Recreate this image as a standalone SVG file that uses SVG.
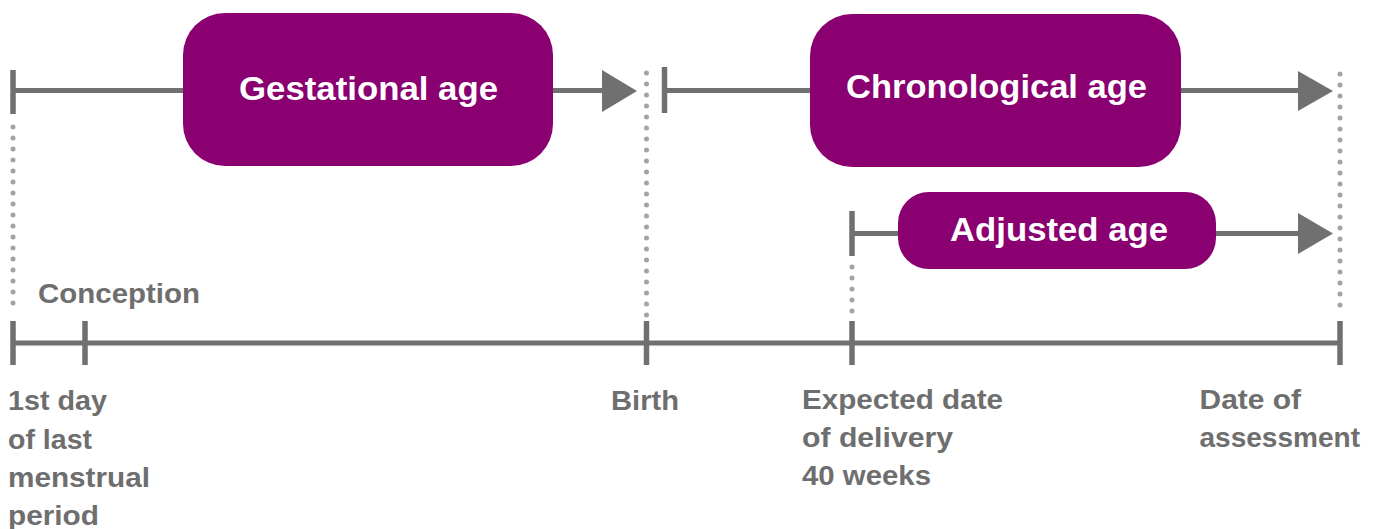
<svg xmlns="http://www.w3.org/2000/svg" width="1381" height="529" viewBox="0 0 1381 529">
<style>
.box{fill:#8a0070}
.btxt{font-family:"Liberation Sans",Arial,sans-serif;font-weight:bold;font-size:34px;fill:#ffffff;text-anchor:middle}
.lbl{font-family:"Liberation Sans",Arial,sans-serif;font-weight:bold;font-size:28px;fill:#6e6e6e}
.ln{stroke:#707070;stroke-width:5;fill:none}
.tk{stroke:#707070;stroke-width:5.5;fill:none}
.dot{stroke:#a3a3a3;stroke-width:5;stroke-linecap:round;stroke-dasharray:0 11;fill:none}
.ah{fill:#707070}
</style>
<rect width="1381" height="529" fill="#ffffff"/>
<g id="connectors">
  <line class="ln" x1="13" y1="90.5" x2="604" y2="90.5"/>
  <polygon class="ah" points="602,70 637,91 602,112"/>
  <line class="tk" x1="13" y1="70" x2="13" y2="114"/>
  <line class="ln" x1="664.5" y1="90.5" x2="1300" y2="90.5"/>
  <polygon class="ah" points="1298,71 1333,91 1298,111"/>
  <line class="tk" x1="664.5" y1="67" x2="664.5" y2="113"/>
  <line class="ln" x1="852" y1="233.5" x2="1300" y2="233.5"/>
  <polygon class="ah" points="1298,213 1333,233.5 1298,254"/>
  <line class="tk" x1="852" y1="211" x2="852" y2="256"/>
  <line class="dot" x1="13" y1="127" x2="13" y2="314"/>
  <line class="dot" x1="646.5" y1="73" x2="646.5" y2="330"/>
  <line class="dot" x1="852" y1="267" x2="852" y2="312"/>
  <line class="dot" x1="1340" y1="74" x2="1340" y2="310"/>
  <line class="ln" x1="13" y1="343" x2="1340" y2="343"/>
  <line class="tk" x1="13" y1="321" x2="13" y2="365"/>
  <line class="tk" x1="85" y1="321" x2="85" y2="365"/>
  <line class="tk" x1="646.5" y1="321" x2="646.5" y2="365"/>
  <line class="tk" x1="852" y1="321" x2="852" y2="365"/>
  <line class="tk" x1="1340" y1="321" x2="1340" y2="365"/>
</g>
<g id="gestational-age">
  <rect class="box" x="183" y="13" width="370" height="153" rx="42"/>
  <text class="btxt" x="368.5" y="100" textLength="259" lengthAdjust="spacingAndGlyphs">Gestational age</text>
</g>
<g id="chronological-age">
  <rect class="box" x="810" y="14" width="371" height="153" rx="42"/>
  <text class="btxt" x="996.5" y="98" textLength="301" lengthAdjust="spacingAndGlyphs">Chronological age</text>
</g>
<g id="adjusted-age">
  <rect class="box" x="898" y="192" width="318" height="77" rx="31"/>
  <text class="btxt" x="1059" y="241" textLength="218" lengthAdjust="spacingAndGlyphs">Adjusted age</text>
</g>
<g id="conception">
  <text class="lbl" x="38" y="303" textLength="162" lengthAdjust="spacingAndGlyphs">Conception</text>
</g>
<g id="lmp">
  <text class="lbl" x="8" y="410" textLength="99" lengthAdjust="spacingAndGlyphs">1st day</text>
  <text class="lbl" x="8" y="448.5" textLength="84" lengthAdjust="spacingAndGlyphs">of last</text>
  <text class="lbl" x="8" y="487" textLength="142" lengthAdjust="spacingAndGlyphs">menstrual</text>
  <text class="lbl" x="8" y="525" textLength="91" lengthAdjust="spacingAndGlyphs">period</text>
</g>
<g id="birth">
  <text class="lbl" x="611" y="410" textLength="68" lengthAdjust="spacingAndGlyphs">Birth</text>
</g>
<g id="edd">
  <text class="lbl" x="802" y="409" textLength="201" lengthAdjust="spacingAndGlyphs">Expected date</text>
  <text class="lbl" x="802" y="447" textLength="151" lengthAdjust="spacingAndGlyphs">of delivery</text>
  <text class="lbl" x="802" y="485" textLength="129" lengthAdjust="spacingAndGlyphs">40 weeks</text>
</g>
<g id="assessment">
  <text class="lbl" x="1199.5" y="409" textLength="101.5" lengthAdjust="spacingAndGlyphs">Date of</text>
  <text class="lbl" x="1199.5" y="447" textLength="160.5" lengthAdjust="spacingAndGlyphs">assessment</text>
</g>
</svg>
